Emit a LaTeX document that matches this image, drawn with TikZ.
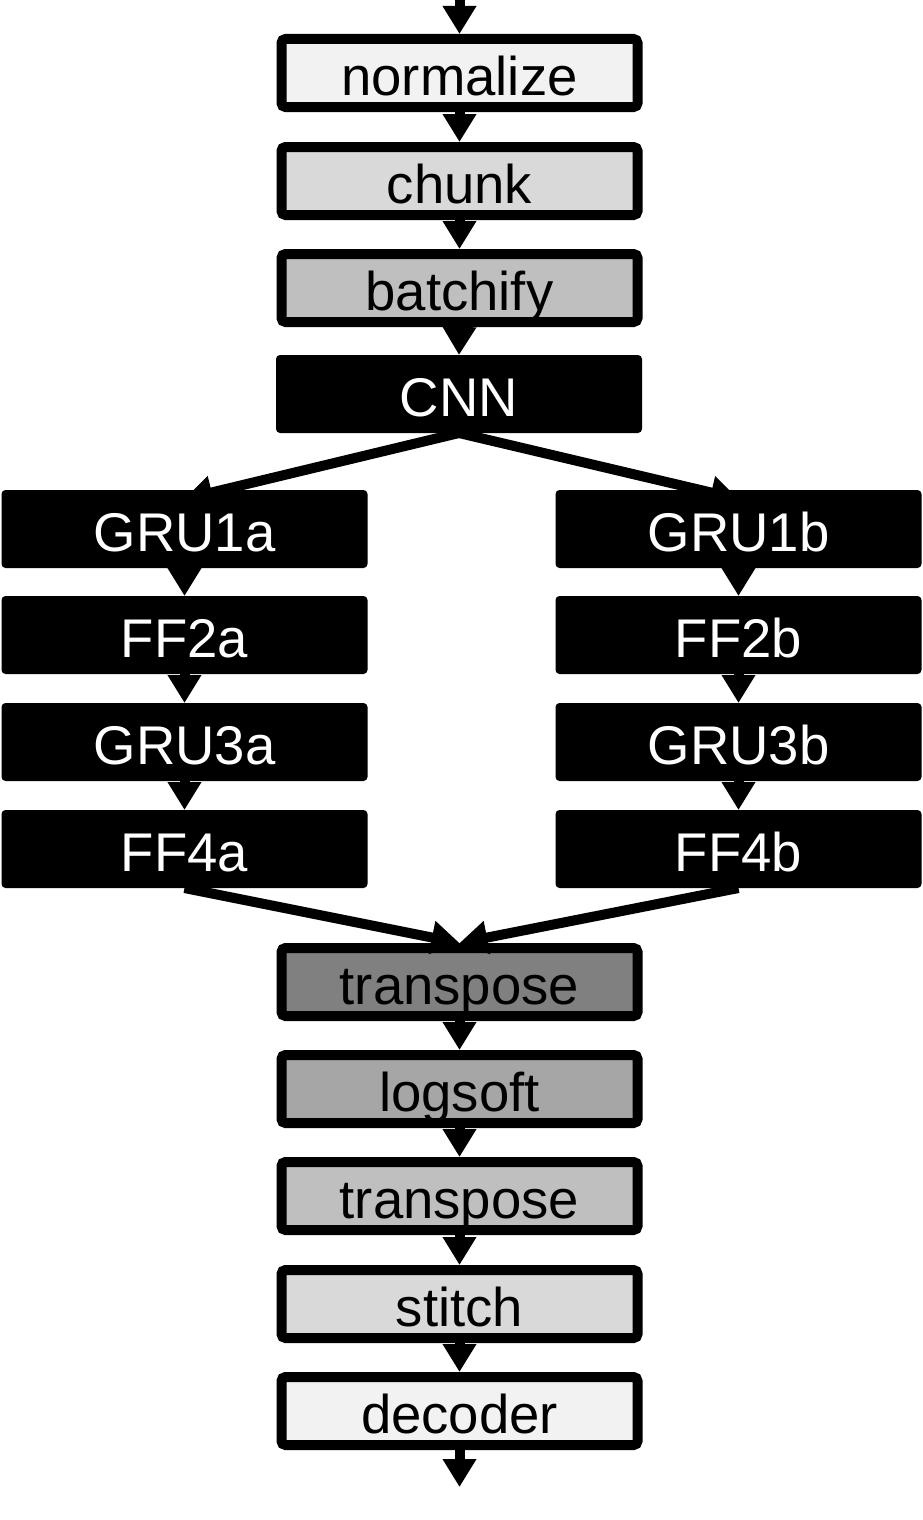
\documentclass[tikz,border=0pt]{standalone}
\usepackage{fontspec}
\setmainfont{Liberation Sans}
\usetikzlibrary{arrows.meta}
\definecolor{g05}{HTML}{F2F2F2}
\definecolor{g15}{HTML}{D9D9D9}
\definecolor{g25}{HTML}{BFBFBF}
\definecolor{g35}{HTML}{A6A6A6}
\definecolor{g50}{HTML}{808080}
\tikzset{
  boxtext/.style={font=\fontsize{54.5}{60}\selectfont, text height=44pt, text depth=0pt, inner sep=0pt, align=center},
  lightbox/.style={boxtext, draw=black, line width=10pt, rounded corners=4pt, minimum width=356pt, minimum height=68pt, text=black},
  darkbox/.style={boxtext, fill=black, draw=none, outer sep=0pt, rounded corners=4pt, minimum width=366pt, minimum height=78pt, text=white},
  arr/.style={line width=10pt, -{Triangle[width=32pt,length=28pt]}}
}
\begin{document}
\begin{tikzpicture}[x=1pt,y=-1pt]
\useasboundingbox (0,0) rectangle (923,1520);
% main column
\node[lightbox, fill=g05] (norm) at (459.5,73) {normalize};
\node[lightbox, fill=g15] (chunk) at (459.5,181) {chunk};
\node[lightbox, fill=g25] (batch) at (459.5,288) {batchify};
\node[darkbox] (cnn) at (459,394) {CNN};
% left branch
\node[darkbox] (gru1a) at (184.5,529) {GRU1a};
\node[darkbox] (ff2a) at (184.5,635) {FF2a};
\node[darkbox] (gru3a) at (184.5,742) {GRU3a};
\node[darkbox] (ff4a) at (184.5,849) {FF4a};
% right branch
\node[darkbox] (gru1b) at (738.5,529) {GRU1b};
\node[darkbox] (ff2b) at (738.5,635) {FF2b};
\node[darkbox] (gru3b) at (738.5,742) {GRU3b};
\node[darkbox] (ff4b) at (738.5,849) {FF4b};
% lower column
\node[lightbox, fill=g50] (tr1) at (459.5,982) {transpose};
\node[lightbox, fill=g35] (logs) at (459.5,1089) {logsoft};
\node[lightbox, fill=g25] (tr2) at (459.5,1196) {transpose};
\node[lightbox, fill=g15] (stitch) at (459.5,1304) {stitch};
\node[lightbox, fill=g05] (dec) at (459.5,1411) {decoder};
\coordinate (in) at (459.5,0);
\coordinate (out) at (459.5,1487);
% connectors
\draw[arr] (in) -- (norm.north);
\draw[arr] (norm.south) -- (chunk.north);
\draw[arr] (chunk.south) -- (batch.north);
\draw[arr] (batch.south) -- (cnn.north);
\draw[arr] (cnn.south) -- ([yshift=-9pt]gru1a.north);
\draw[arr] (cnn.south) -- ([yshift=-9pt]gru1b.north);
\draw[arr] (gru1a.south) -- (ff2a.north);
\draw[arr] (ff2a.south) -- (gru3a.north);
\draw[arr] (gru3a.south) -- (ff4a.north);
\draw[arr] (gru1b.south) -- (ff2b.north);
\draw[arr] (ff2b.south) -- (gru3b.north);
\draw[arr] (gru3b.south) -- (ff4b.north);
\draw[arr] (ff4a.south) -- (tr1.north);
\draw[arr] (ff4b.south) -- (tr1.north);
\draw[arr] (tr1.south) -- (logs.north);
\draw[arr] (logs.south) -- (tr2.north);
\draw[arr] (tr2.south) -- (stitch.north);
\draw[arr] (stitch.south) -- (dec.north);
\draw[arr] (dec.south) -- (out);
\end{tikzpicture}
\end{document}
